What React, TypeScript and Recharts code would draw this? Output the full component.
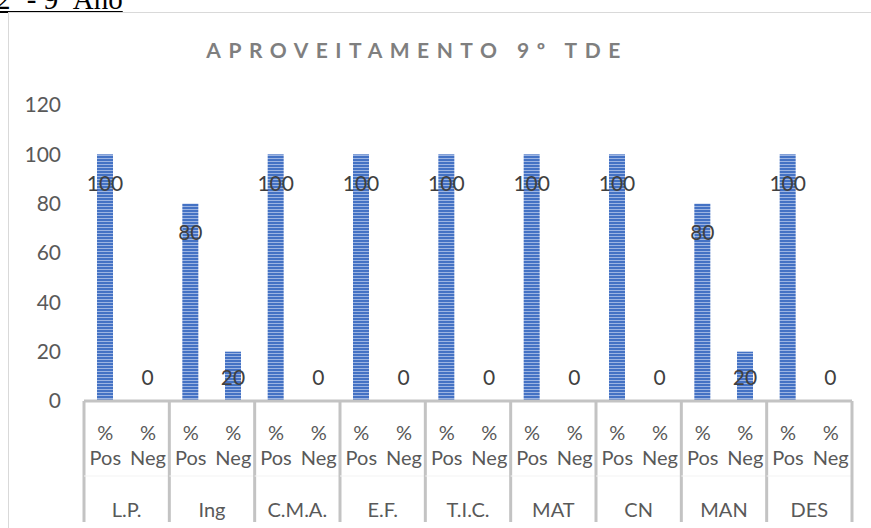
import { BarChart, Bar, XAxis, YAxis, LabelList } from 'recharts';

const subjects = ['L.P.', 'Ing', 'C.M.A.', 'E.F.', 'T.I.C.', 'MAT', 'CN', 'MAN', 'DES'];
const posValues = [100, 80, 100, 100, 100, 100, 100, 80, 100];
const negValues = [0, 20, 0, 0, 0, 0, 0, 20, 0];
const subLabels = ['Pos', 'Neg'];
const yTicks = [0, 20, 40, 60, 80, 100, 120];

const rows = subjects.flatMap((s, i) => [
  { group: s, sub: subLabels[0], key: `${s}-pos`, v: posValues[i] },
  { group: s, sub: subLabels[1], key: `${s}-neg`, v: negValues[i] },
]);

const W = 871;
const H = 528;
const M = { top: 105, right: 19, bottom: 0, left: 0 };
const X_H = 127;
const Y_W = 84;
const BAND = (W - M.left - M.right - Y_W) / rows.length;
const FONT = 'Lato, "Open Sans", sans-serif';
const SEP = '#c3c3c3';

function XTick(props: any) {
  const { x, y, payload } = props;
  const i = payload.index as number;
  const row = rows[i];
  const isPos = i % 2 === 0;
  const top = y - 8;
  return (
    <g>
      <text x={x} y={top + 31} textAnchor="middle" dominantBaseline="central" fill="#595959" fontSize={20} fontFamily={FONT}>%</text>
      <text x={x} y={top + 56} textAnchor="middle" dominantBaseline="central" fill="#595959" fontSize={20} fontFamily={FONT}>{row.sub}</text>
      {isPos && (
        <>
          <text x={x + BAND / 2} y={top + 108} textAnchor="middle" dominantBaseline="central" fill="#595959" fontSize={20} fontFamily={FONT}>{row.group}</text>
          <line x1={x - BAND / 2} x2={x - BAND / 2} y1={top} y2={top + 121} stroke={SEP} strokeWidth={3} />
          <line x1={x - BAND / 2} x2={x + BAND * 1.5} y1={top + 75} y2={top + 75} stroke="#f3f3f3" strokeWidth={1} />
        </>
      )}
      {i === rows.length - 1 && (
        <line x1={x + BAND / 2} x2={x + BAND / 2} y1={top} y2={top + 121} stroke={SEP} strokeWidth={3} />
      )}
    </g>
  );
}

// zero bars get a 1px minPointSize so their label is kept; the shape hides them
function StripedBar(props: any) {
  const { x, y, width, height, value } = props;
  const v = Array.isArray(value) ? value[1] - value[0] : value;
  if (!v) return <g />;
  return <rect x={x} y={y} width={width} height={height} fill="url(#stripes)" />;
}

function ValueLabel(props: any) {
  const vb = props.viewBox || {};
  const x = Number(props.x ?? vb.x);
  const y = Number(props.y ?? vb.y);
  const width = Number(props.width ?? vb.width ?? 16) || 16;
  const height = Number(props.height ?? vb.height ?? 0) || 0;
  const cy = Math.min(y + 28, y + height - 25);
  return (
    <text x={x + width / 2} y={cy} textAnchor="middle" dominantBaseline="central" fill="#404040" fontSize={21} fontFamily={FONT}>
      {props.value}
    </text>
  );
}

export default function App() {
  return (
    <div style={{ position: 'absolute', left: 0, top: 0, width: W, height: H, overflow: 'hidden', background: '#fff' }}>
      <div
        style={{
          position: 'absolute',
          left: -4,
          top: -16,
          fontFamily: '"Liberation Serif", "Times New Roman", serif',
          fontSize: 29,
          lineHeight: '30px',
          textDecoration: 'underline',
          color: '#000',
          whiteSpace: 'nowrap',
        }}
      >
        2º - 9º Ano
      </div>
      <div style={{ position: 'absolute', left: 8, top: 12, width: 900, height: 560, border: '1px solid #d9d9d9' }} />
      <div
        style={{
          position: 'absolute',
          left: 0,
          width: 834,
          top: 37,
          textAlign: 'center',
          fontFamily: FONT,
          fontWeight: 700,
          fontSize: 21,
          letterSpacing: 7.5,
          color: '#7f7f7f',
        }}
      >
        APROVEITAMENTO 9º TDE
      </div>
      <div style={{ position: 'absolute', left: 0, top: 0 }}>
        <BarChart width={W} height={H} data={rows} margin={M} barCategoryGap={0}>
          <defs>
            <pattern id="stripes" width="4" height="3" patternUnits="userSpaceOnUse">
              <rect width="4" height="3" fill="#9cb4e2" />
              <rect width="4" height="2" fill="#4472c4" />
            </pattern>
          </defs>
          <YAxis
            width={Y_W}
            domain={[0, 120]}
            ticks={yTicks}
            axisLine={false}
            tickLine={false}
            tickMargin={17}
            tick={{ fill: '#595959', fontSize: 21, fontFamily: FONT }}
          />
          <XAxis
            dataKey="key"
            height={X_H}
            interval={0}
            tickLine={false}
            axisLine={{ stroke: SEP, strokeWidth: 3 }}
            tick={<XTick />}
          />
          <Bar dataKey="v" fill="url(#stripes)" barSize={16} minPointSize={1} shape={<StripedBar />} isAnimationActive={false}>
            <LabelList dataKey="v" content={<ValueLabel />} />
          </Bar>
        </BarChart>
      </div>
    </div>
  );
}
